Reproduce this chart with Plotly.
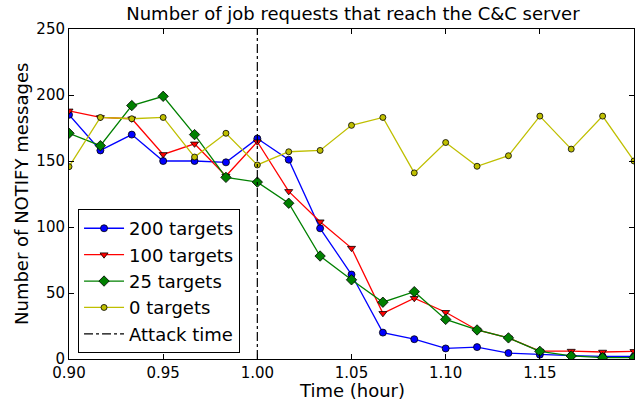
import plotly.graph_objects as go

times = [0.9 + i / 60 for i in range(19)]
t200 = [185, 158, 170, 150, 150, 149, 167, 151, 99, 64, 20, 15, 8, 9, 4.5, 3.3, 2.5, 2, 2]
t100 = [188, 183, 182, 155, 163, 138.6, 164.6, 127, 104, 84, 34.6, 46, 35.4, 22, 16, 6, 6, 5.3, 5.8]
t25 = [171, 161.6, 192, 199, 170, 137.6, 134, 118, 78, 60, 43, 51, 30, 22, 16, 5.8, 2.3, 1, 1]
t0 = [145.7, 183, 182, 183, 153, 171, 147, 157, 158, 177, 183, 141, 164, 146, 154, 184, 159, 184, 150]
attack_time = 1.0
xticks = [0.90, 0.95, 1.00, 1.05, 1.10, 1.15]
yticks = [0, 50, 100, 150, 200, 250]

fig = go.Figure()
series = [
    ("200 targets", t200, "rgb(0,0,255)", "circle", 7),
    ("100 targets", t100, "rgb(255,0,0)", "triangle-down", 7),
    ("25 targets", t25, "rgb(0,128,0)", "diamond", 8),
    ("0 targets", t0, "rgb(191,191,0)", "circle", 6),
]
for name, ys, col, sym, sz in series:
    fig.add_trace(go.Scatter(
        x=times, y=ys, name=name, mode="lines+markers",
        line=dict(color=col, width=1.3),
        marker=dict(symbol=sym, size=sz, color=col, line=dict(color="black", width=0.8)),
    ))
fig.add_trace(go.Scatter(
    x=[attack_time, attack_time], y=[0, 250], name="Attack time", mode="lines",
    line=dict(color="black", width=1.2, dash="dashdot"),
))

axis_common = dict(
    showgrid=False, zeroline=False, showline=True, linecolor="black", linewidth=1,
    mirror="ticks", ticks="inside", ticklen=5, tickcolor="black", automargin=False,
    tickfont=dict(size=15, color="black"),
)
fig.update_layout(
    width=644, height=403,
    margin=dict(l=69, r=10, t=29, b=44),
    paper_bgcolor="white", plot_bgcolor="white",
    font=dict(family="DejaVu Sans", color="black"),
    title=dict(text="Number of job requests that reach the C&C server", x=0.548, xanchor="center",
               y=1 - 7 / 403, yanchor="top", font=dict(size=18)),
    xaxis=dict(range=[0.9, 1.2], tickvals=xticks, ticktext=[f"{v:.2f}" for v in xticks], **axis_common),
    yaxis=dict(range=[0, 250], tickvals=yticks, **axis_common),
    legend=dict(x=0.016, y=0.018, xanchor="left", yanchor="bottom", bgcolor="white",
                bordercolor="black", borderwidth=1, font=dict(size=18), tracegroupgap=0,
                itemwidth=40),
    showlegend=True,
    annotations=[
        dict(text="Time (hour)", xref="paper", yref="paper", x=0.5, y=-0.058,
             xanchor="center", yanchor="top", showarrow=False, font=dict(size=18)),
        dict(text="Number of NOTIFY messages", xref="paper", yref="paper", x=-0.085, y=0.5,
             xanchor="center", yanchor="middle", textangle=-90, showarrow=False, font=dict(size=18)),
    ],
)
fig.write_html("out.html", config={"displayModeBar": False},
               post_script="document.body.style.margin='0px';document.body.style.padding='0px';")
